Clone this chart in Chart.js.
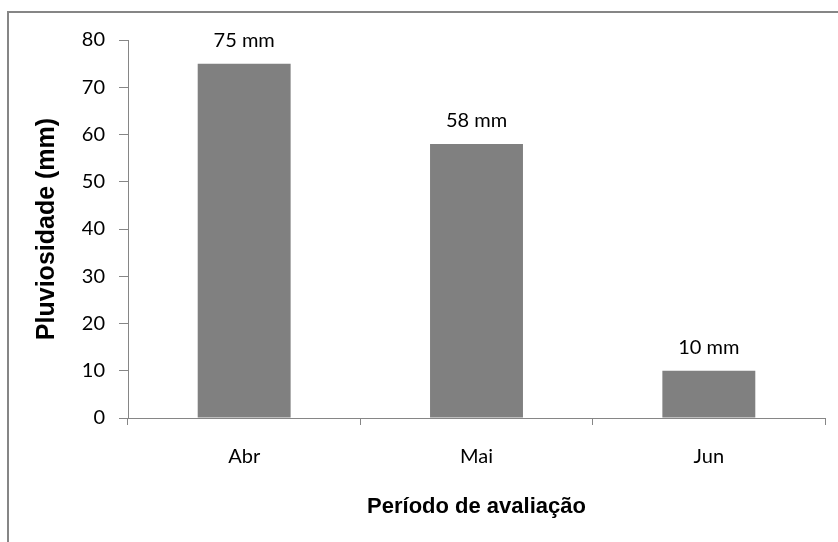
<!DOCTYPE html>
<html>
<head>
<meta charset="utf-8">
<script src="https://cdn.jsdelivr.net/npm/chart.js@4/dist/chart.umd.min.js"></script>
<style>
    body { margin: 0; background: #fff; overflow: hidden; }
    #wrap { position: relative; width: 838px; height: 542px; }
    #frame {
        position: absolute; left: 7px; top: 11px; width: 900px; height: 600px;
        border-top: 2px solid #868686; border-left: 2px solid #868686;
    }
    canvas { position: absolute; left: 0; top: 0; }
</style>
</head>
<body>
<div id="wrap">
    <div id="frame"></div>
    <canvas id="rainChart" width="838" height="542"></canvas>
</div>
<script>
    var months = ['Abr', 'Mai', 'Jun'];
    var rainfall = [75, 58, 10];
    var rainLabels = ['75 mm', '58 mm', '10 mm'];
    var yTicks = [0, 10, 20, 30, 40, 50, 60, 70, 80];

    var tickFont = { family: 'Lato', size: 20 };

    // labels above the bars (no datalabels plugin offline)
    var barLabels = {
        id: 'barLabels',
        afterDatasetsDraw: function (chart) {
            var ctx = chart.ctx;
            var meta = chart.getDatasetMeta(0);
            ctx.save();
            ctx.font = '20px Lato';
            ctx.fillStyle = '#000';
            ctx.textAlign = 'center';
            ctx.textBaseline = 'middle';
            meta.data.forEach(function (bar, i) {
                ctx.fillText(rainLabels[i], bar.x, bar.y - 23);
            });
            ctx.restore();
        }
    };

    new Chart(document.getElementById('rainChart').getContext('2d'), {
        type: 'bar',
        data: {
            labels: months,
            datasets: [{
                label: 'Pluviosidade',
                data: rainfall,
                backgroundColor: '#808080',
                borderWidth: 0,
                barPercentage: 0.4,
                categoryPercentage: 1
            }]
        },
        options: {
            responsive: false,
            animation: false,
            layout: { padding: { left: 0, top: 40, right: 13, bottom: 0 } },
            plugins: {
                legend: { display: false },
                tooltip: { enabled: false }
            },
            scales: {
                x: {
                    offset: true,
                    afterFit: function (scale) { scale.height = 124; },
                    grid: {
                        offset: true,
                        drawOnChartArea: false,
                        tickLength: 7,
                        color: '#868686'
                    },
                    border: { color: '#868686', width: 1 },
                    ticks: { font: tickFont, color: '#000', padding: 20 },
                    title: {
                        display: true,
                        text: 'Período de avaliação',
                        font: { family: 'Liberation Sans', size: 22, weight: 'bold' },
                        color: '#000',
                        padding: { top: 0, bottom: 22 }
                    }
                },
                y: {
                    min: yTicks[0],
                    max: yTicks[yTicks.length - 1],
                    afterFit: function (scale) { scale.width = 128; },
                    afterBuildTicks: function (scale) {
                        scale.ticks = yTicks.map(function (v) { return { value: v }; });
                    },
                    grid: {
                        drawOnChartArea: false,
                        tickLength: 9,
                        color: '#868686'
                    },
                    border: { color: '#868686', width: 1 },
                    ticks: { font: tickFont, color: '#000', padding: 14 },
                    title: {
                        display: true,
                        text: 'Pluviosidade (mm)',
                        font: { family: 'Liberation Sans', size: 25, weight: 'bold' },
                        color: '#000',
                        padding: { top: 32, bottom: 0 }
                    }
                }
            }
        },
        plugins: [barLabels]
    });
</script>
</body>
</html>
